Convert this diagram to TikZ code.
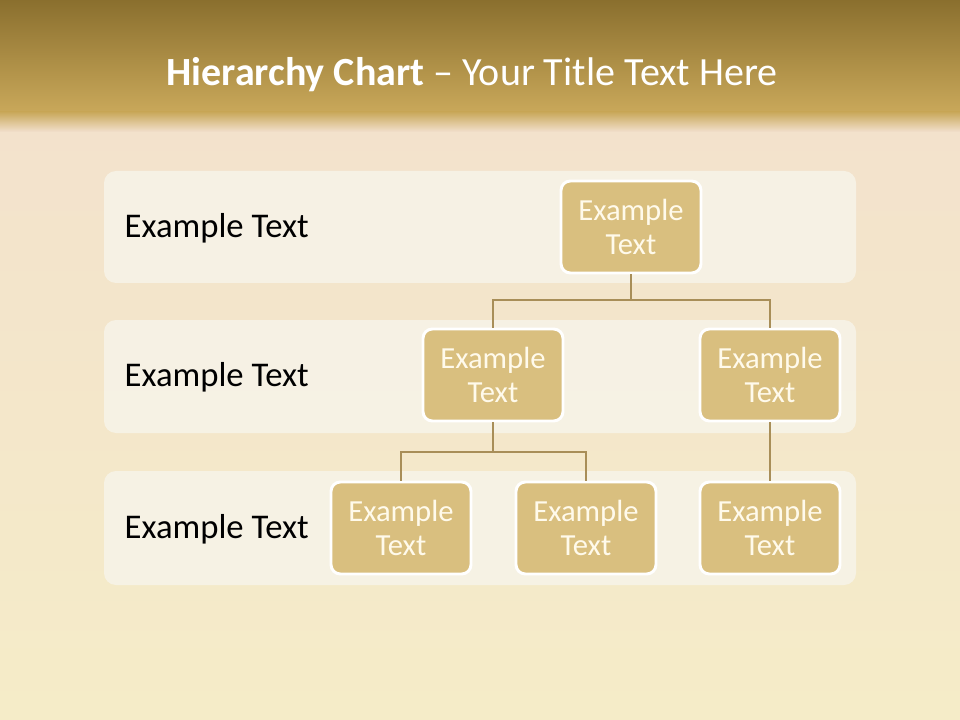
\documentclass[tikz,border=0pt]{standalone}
\usepackage{fontspec}
\setmainfont{Carlito}
\usepackage{xcolor}
\usetikzlibrary{positioning}
\definecolor{barTop}{RGB}{138,111,46}
\definecolor{barBot}{RGB}{201,168,90}
\definecolor{pageBg}{RGB}{245,236,200}
\definecolor{pagePink}{RGB}{242,224,205}
\definecolor{bandFill}{RGB}{247,243,231}
\definecolor{boxFill}{RGB}{217,191,127}
\definecolor{boxText}{RGB}{255,250,235}
\definecolor{linkCol}{RGB}{168,142,88}

\begin{document}
\begin{tikzpicture}[
  x=0.75pt,y=-0.75pt,
  band/.style={fill=bandFill,opacity=0.92,rounded corners=9pt},
  orgbox/.style={draw=white,line width=2.2pt,fill=boxFill,rounded corners=7pt,
    minimum width=105pt,minimum height=69pt,align=center,text=boxText,
    font=\fontsize{23}{25}\selectfont},
  level/.style={anchor=west,text=black,font=\fontsize{26}{30}\selectfont},
  link/.style={draw=linkCol,line width=2.2pt}
]
\useasboundingbox (0,0) rectangle (960,720);

% page and title bar
\shade[top color=pagePink,bottom color=pageBg] (0,0) rectangle (960,720);
\shade[top color=barTop,bottom color=barBot] (0,0) rectangle (960,112);
\shade[top color=barBot,bottom color=pagePink] (0,112) rectangle (960,132);
\node[text=white,font=\fontsize{30}{34}\selectfont] (title) at (472,75)
  {\textbf{Hierarchy Chart} -- Your Title Text Here};

% level bands
\fill[band] (104,171) rectangle (856,283);
\fill[band] (104,320) rectangle (856,433);
\fill[band] (104,471) rectangle (856,585);

\node[level] (lab1) at (120,228) {Example Text};
\node[level] (lab2) at (120,377) {Example Text};
\node[level] (lab3) at (120,529) {Example Text};

% chart boxes
\node[orgbox] (top) at (631,227) {Example\\Text};
\node[orgbox] (m1) at (493,375) {Example\\Text};
\node[orgbox] (m2) at (770,375) {Example\\Text};
\node[orgbox] (b1) at (401,528) {Example\\Text};
\node[orgbox] (b2) at (586,528) {Example\\Text};
\node[orgbox] (b3) at (770,528) {Example\\Text};

% connectors
\coordinate (j1) at (631,300);
\coordinate (j2) at (493,452);
\draw[link] (top.south) -- (j1) -| (m1.north);
\draw[link] (j1) -| (m2.north);
\draw[link] (m1.south) -- (j2) -| (b1.north);
\draw[link] (j2) -| (b2.north);
\draw[link] (m2.south) -- (b3.north);
\end{tikzpicture}
\end{document}
